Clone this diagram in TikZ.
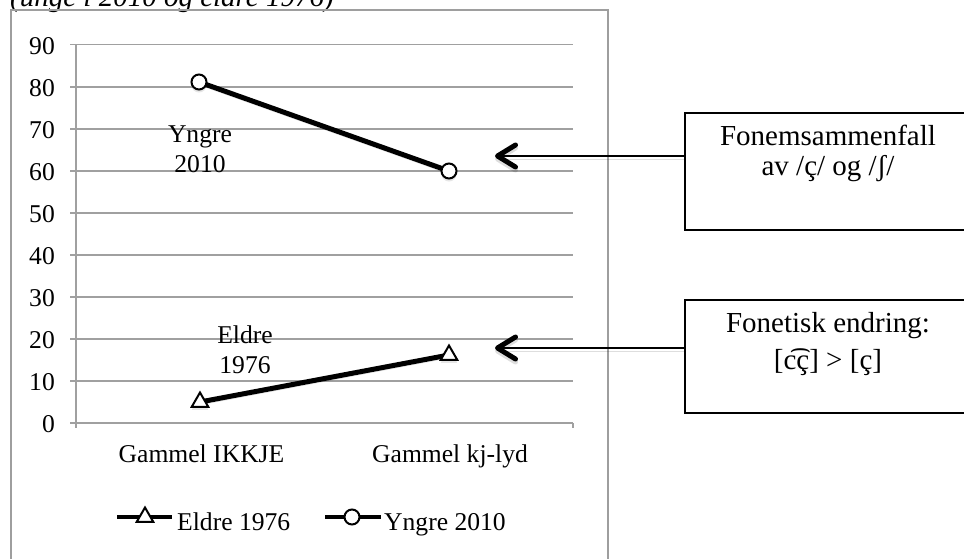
\documentclass[tikz,border=0pt]{standalone}
\usepackage{fontspec}
\setmainfont{Liberation Serif}
\usetikzlibrary{arrows.meta,shapes.geometric,shadows}
\definecolor{gridgray}{RGB}{160,160,160}
\definecolor{framegray}{RGB}{158,158,158}
\begin{document}
\begin{tikzpicture}[x=1pt,y=-1pt,
  chartfont/.style={font=\fontsize{25.6}{30}\selectfont},
  boxfont/.style={font=\fontsize{29}{34}\selectfont},
  gridline/.style={draw=gridgray,line width=1.5pt},
  softshadow/.style={preaction={draw=black,opacity=0.13,transform canvas={yshift=-3pt}}},
  dataline/.style={line width=5pt,softshadow},
  legline/.style={line width=4.5pt},
  ymark/.style={circle,draw,fill=white,line width=2pt,minimum size=15pt,inner sep=0pt},
  emark/.style={regular polygon,regular polygon sides=3,draw,fill=white,line width=2pt,minimum size=19pt,inner sep=0pt},
  markshadow/.style={drop shadow={shadow xshift=0pt,shadow yshift=-3pt,opacity=0.2}},
  callbox/.style={draw,line width=2pt,minimum width=287pt,inner sep=0pt},
  callarrow/.style={line width=2.5pt,softshadow,-{Straight Barb[length=18pt,width=22pt,line width=5pt,round]}},
  lab/.style={chartfont,inner sep=0pt},
  boxtext/.style={boxfont,inner sep=0pt,anchor=base},
]
\useasboundingbox (0,0) rectangle (964,558);
% title (cut off at top)
\node[font=\fontsize{29}{34}\selectfont\itshape,anchor=base west,inner sep=0pt] (title) at (10,6) {(unge i 2010 og eldre 1976)};
% chart frame
\draw[draw=framegray,line width=2pt] (11,10) rectangle (608,590);
% grid
\foreach \v in {1,...,9}
  \draw[gridline] (70,{423-42.03*\v}) -- (573,{423-42.03*\v});
\draw[gridline] (70,423) -- (573,423);
\draw[gridline] (76,44.7) -- (76,428);
\draw[gridline] (573,423) -- (573,428);
\foreach \v [evaluate=\v as \t using int(10*\v)] in {0,...,9}
  \node[lab,anchor=base east] (yl\v) at (55,{423-42.03*\v+9.3}) {\t};
% categories
\node[lab,anchor=base] (c1) at (201.5,462) {Gammel IKKJE};
\node[lab,anchor=base] (c2) at (450,462) {Gammel kj-lyd};
% data
\coordinate (py1) at (199,82);
\coordinate (py2) at (449,171);
\coordinate (pe1) at (200,402);
\coordinate (pe2) at (449,355);
\draw[dataline] (py1) -- (py2);
\draw[dataline] (pe1) -- (pe2);
\node[ymark,markshadow] (y1) at (py1) {};
\node[ymark,markshadow] (y2) at (py2) {};
\node[emark,markshadow] (e1) at (pe1) {};
\node[emark,markshadow] (e2) at (pe2) {};
\node[lab,align=center] (ylab) at (200,149.5) {Yngre\\2010};
\node[lab,align=center] (elab) at (245,349.5) {Eldre\\1976};
% legend
\coordinate (l1a) at (117,517);
\coordinate (l1b) at (172,517);
\draw[legline] (l1a) -- (l1b);
\node[emark] (lm1) at (145,517) {};
\node[lab,anchor=base west] (lt1) at (177,530) {Eldre 1976};
\coordinate (l2a) at (325,517);
\coordinate (l2b) at (381,517);
\draw[legline] (l2a) -- (l2b);
\node[ymark] (lm2) at (352,517) {};
\node[lab,anchor=base west] (lt2) at (384,530) {Yngre 2010};
% callout boxes
\node[callbox,minimum height=117pt] (b1) at (828.5,171.5) {};
\node[callbox,minimum height=113pt] (b2) at (828.5,356.5) {};
\node[boxtext] (b1t1) at (828,145) {Fonemsammenfall};
\node[boxtext] (b1t2) at (828,175) {av /ç/ og /ʃ/};
\node[boxtext] (b2t1) at (828,332) {Fonetisk endring:};
\node[boxtext] (b2t2) at (828,369) {[c͡ç] > [ç]};
% arrows
\coordinate (t1) at (495,156);
\coordinate (t2) at (495,348);
\draw[callarrow] (b1.west |- t1) -- (t1);
\draw[callarrow] (b2.west |- t2) -- (t2);
\end{tikzpicture}
\end{document}
